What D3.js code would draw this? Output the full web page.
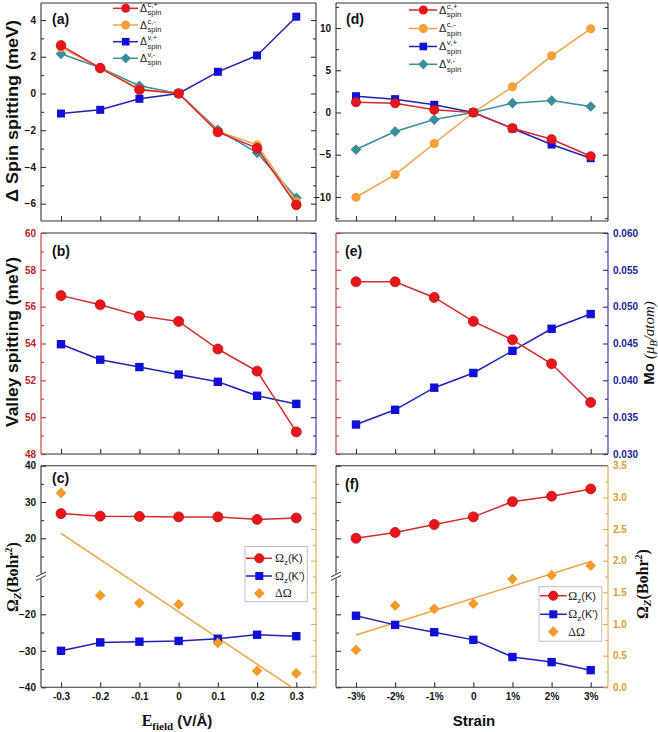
<!DOCTYPE html>
<html>
<head>
<meta charset="utf-8">
<script src="https://cdn.jsdelivr.net/npm/d3@7"></script>
<style>
  body { margin: 0; background: #fff; }
  svg { display: block; }
  text { font-family: 'Liberation Sans', Arial, sans-serif; }
</style>
</head>
<body>
<div id="chart"></div>
<script>
// x values / tick labels
const efield = [-0.3, -0.2, -0.1, 0, 0.1, 0.2, 0.3];
const efieldLabels = ["-0.3", "-0.2", "-0.1", "0", "0.1", "0.2", "0.3"];
const strain = [-3, -2, -1, 0, 1, 2, 3];
const strainLabels = ["-3%", "-2%", "-1%", "0", "1%", "2%", "3%"];

// (a) spin splitting vs E field (meV)
const aCPlus = [2.62, 1.38, 0.2, 0, -2.1, -2.98, -6.07];
const aCMinus = [2.5, 1.4, 0.25, 0, -2.05, -2.8, -5.9];
const aVPlus = [-1.09, -0.89, -0.29, 0, 1.18, 2.07, 4.18];
const aVMinus = [2.16, 1.4, 0.42, 0, -1.98, -3.23, -5.68];

// (d) spin splitting vs strain (meV)
const dCPlus = [1.22, 1.1, 0.32, 0, -1.86, -3.16, -5.18];
const dCMinus = [-10.03, -7.35, -3.67, 0, 3.04, 6.71, 9.91];
const dVPlus = [1.93, 1.58, 0.91, 0, -1.9, -3.79, -5.41];
const dVMinus = [-4.38, -2.25, -0.83, 0, 1.1, 1.42, 0.71];

// (b) / (e) valley splitting (meV) and Mo moment (muB/atom)
const bValley = [56.6, 56.1, 55.5, 55.2, 53.7, 52.5, 49.2];
const bMo = [0.0449, 0.0428, 0.0418, 0.0408, 0.0398, 0.0379, 0.0368];
const eValley = [57.35, 57.35, 56.5, 55.2, 54.2, 52.9, 50.8];
const eMo = [0.034, 0.036, 0.039, 0.041, 0.044, 0.047, 0.049];

// (c) / (f) Berry curvature (Bohr^2)
const cK = [26.8, 26.1, 26.0, 25.9, 25.9, 25.2, 25.6];
const cKp = [-30.0, -27.7, -27.5, -27.3, -26.7, -25.6, -26.0];
const cDelta = [3.07, 1.45, 1.33, 1.31, 0.70, 0.26, 0.22];
const fK = [20.0, 21.6, 23.8, 25.9, 30.1, 31.6, 33.6];
const fKp = [-20.4, -22.9, -24.9, -27.0, -31.7, -33.1, -35.3];
const fDelta = [0.59, 1.29, 1.24, 1.32, 1.71, 1.77, 1.92];

// axis ticks
const aMajor = [-6, -4, -2, 0, 2, 4], aMinor = [-5, -3, -1, 1, 3];
const dMajor = [-10, -5, 0, 5, 10], dMinor = [-12.5, -7.5, -2.5, 2.5, 7.5, 12.5];
const bMajor = [48, 50, 52, 54, 56, 58, 60], bMinor = [49, 51, 53, 55, 57, 59];
const moMajor = [0.030, 0.035, 0.040, 0.045, 0.050, 0.055, 0.060];
const moMinor = [0.0325, 0.0375, 0.0425, 0.0475, 0.0525, 0.0575];
const omMajor = [-40, -30, -20, 20, 30, 40], omMinor = [-35, -25, -15, 15, 25, 35];
const dOmMajor = [0, 0.5, 1.0, 1.5, 2.0, 2.5, 3.0, 3.5];
const dOmMinor = [0.25, 0.75, 1.25, 1.75, 2.25, 2.75, 3.25];

const SANS = "'Liberation Sans', Arial, sans-serif";
const SERIF = "'Liberation Serif', 'Times New Roman', serif";
const RED = "#e8161b", RED_LINE = "#d32a2c", ORANGE = "#f6a03a", ORANGE_LINE = "#eea446";
const BLUE = "#1010d6", BLUE_LINE = "#2020b4", TEAL = "#3b8d9c";
const AX_RED = "#c8353a", AX_BLUE = "#2b2ba6", AX_OR = "#eaa850", FR = "#333";

const svg = d3.select("#chart").append("svg").attr("width", 658).attr("height", 732);
const defs = svg.append("defs");

const L = { x0: 41, x1: 316 }, R = { x0: 336, x1: 608 };
const rows = [{ y0: 3, y1: 221 }, { y0: 233, y1: 454 }, { y0: 465.7, y1: 687.3 }];

const xL = d3.scaleLinear().domain([-0.3, 0.3]).range([61, 296.3]);
const xR = d3.scaleLinear().domain([-3, 3]).range([356, 590.7]);
const yA = d3.scaleLinear().domain([-6, 4]).range([203.7, 20]);
const yD = d3.scaleLinear().domain([-10, 10]).range([197, 28]);
const yV = d3.scaleLinear().domain([48, 60]).range([454, 233]);
const yMo = d3.scaleLinear().domain([0.03, 0.06]).range([454, 233]);
// broken axis: -40..-10 and 10..40
const yOm = d3.scaleLinear().domain([-40, -10, 10, 40]).range([687.3, 577.8, 574.6, 465.7]);
const yDOm = d3.scaleLinear().domain([0, 3.5]).range([687.3, 465.7]);

function frame(p, row, c) {
  const g = svg.append("g").attr("stroke-width", 1.1);
  g.append("line").attr("x1", p.x0).attr("x2", p.x1).attr("y1", row.y0).attr("y2", row.y0).attr("stroke", c[0]);
  g.append("line").attr("x1", p.x1).attr("x2", p.x1).attr("y1", row.y0).attr("y2", row.y1).attr("stroke", c[1]);
  g.append("line").attr("x1", p.x0).attr("x2", p.x1).attr("y1", row.y1).attr("y2", row.y1).attr("stroke", c[2]);
  g.append("line").attr("x1", p.x0).attr("x2", p.x0).attr("y1", row.y0).attr("y2", row.y1).attr("stroke", c[3]);
}

function yAxis(x, scale, side, major, minor, color, fmt, labelColor) {
  const ax = side === "left" ? d3.axisLeft : d3.axisRight;
  const g = svg.append("g").attr("transform", `translate(${x},0)`)
    .call(ax(scale).tickValues(major).tickSize(-5).tickPadding(5).tickFormat(fmt || (() => "")));
  g.select(".domain").remove();
  g.selectAll("line").attr("stroke", color).attr("stroke-width", 1.1);
  g.selectAll("text").attr("fill", labelColor || color)
    .style("font", `bold 10px ${SANS}`);
  if (minor) {
    const m = svg.append("g").attr("transform", `translate(${x},0)`)
      .call(ax(scale).tickValues(minor).tickSize(-3).tickFormat(() => ""));
    m.select(".domain").remove();
    m.selectAll("line").attr("stroke", color).attr("stroke-width", 1.1);
  }
}

function xAxis(y, scale, values, labels) {
  const g = svg.append("g").attr("transform", `translate(0,${y})`)
    .call(d3.axisBottom(scale).tickValues(values).tickSize(-5).tickPadding(6)
      .tickFormat((d, i) => labels ? labels[i] : ""));
  g.select(".domain").remove();
  g.selectAll("line").attr("stroke", FR).attr("stroke-width", 1.1);
  g.selectAll("text").attr("fill", "#111").style("font", `bold 10px ${SANS}`);
}

function marker(shape, x, y, s, fill, stroke) {
  if (shape === "circle") {
    svg.append("circle").attr("cx", x).attr("cy", y).attr("r", s)
      .attr("fill", fill).attr("stroke", stroke || "none").attr("stroke-width", 0.8);
  } else if (shape === "square") {
    svg.append("rect").attr("x", x - s).attr("y", y - s).attr("width", 2 * s).attr("height", 2 * s)
      .attr("fill", fill).attr("stroke", stroke || "none").attr("stroke-width", 0.8);
  } else {
    svg.append("rect").attr("x", -s).attr("y", -s).attr("width", 2 * s).attr("height", 2 * s)
      .attr("transform", `translate(${x},${y}) rotate(45)`)
      .attr("fill", fill).attr("stroke", stroke || "none").attr("stroke-width", 0.8);
  }
}

function series(xs, ys, xs_, ys_, o) {
  const pts = ys.map((v, i) => [xs_(xs[i]), ys_(v)]);
  if (o.line) {
    svg.append("path").attr("d", d3.line()(pts)).attr("fill", "none")
      .attr("stroke", o.line).attr("stroke-width", 1.5);
  }
  pts.forEach(([x, y]) => marker(o.shape, x, y, o.size, o.fill, o.stroke));
}

function fitLine(xs, ys, xs_, ys_, color, clipId, p, row) {
  const mx = d3.mean(xs), my = d3.mean(ys);
  const b = d3.sum(xs, (x, i) => (x - mx) * (ys[i] - my)) / d3.sum(xs, x => (x - mx) ** 2);
  const a = my - b * mx;
  defs.append("clipPath").attr("id", clipId).append("rect")
    .attr("x", p.x0).attr("y", row.y0).attr("width", p.x1 - p.x0).attr("height", row.y1 - row.y0);
  const ends = [d3.min(xs), d3.max(xs)];
  svg.append("path").attr("clip-path", `url(#${clipId})`)
    .attr("d", d3.line()(ends.map(x => [xs_(x), ys_(a + b * x)])))
    .attr("fill", "none").attr("stroke", color).attr("stroke-width", 1.5);
}

function axisBreak(x, y) {
  svg.append("rect").attr("x", x - 2).attr("y", y - 2.5).attr("width", 4).attr("height", 5).attr("fill", "#fff");
  [-1.8, 1.8].forEach(o => {
    svg.append("line").attr("x1", x - 5).attr("y1", y + o + 2.5).attr("x2", x + 5).attr("y2", y + o - 2.5)
      .attr("stroke", FR).attr("stroke-width", 1);
  });
}

function panelLabel(x, y, t) {
  svg.append("text").attr("x", x).attr("y", y).style("font", `bold 14px ${SANS}`).attr("fill", "#111").text(t);
}

function deltaLabel(x, y, sup, size) {
  const t = svg.append("text").attr("x", x).attr("y", y + size * 0.35)
    .style("font-size", size + "px").attr("fill", "#222").text("Δ");
  const w = t.node().getComputedTextLength();
  svg.append("text").attr("x", x + w + 0.5).attr("y", y - 1.5).style("font-size", (size * 0.72) + "px")
    .attr("fill", "#222").text(sup);
  svg.append("text").attr("x", x + w + 0.5).attr("y", y + size * 0.68).style("font-size", (size * 0.72) + "px")
    .attr("fill", "#222").text("spin");
}

function omegaLabel(x, y, rest) {
  const t = svg.append("text").attr("x", x).attr("y", y + 4).attr("fill", "#222");
  t.append("tspan").style("font", `12px ${SERIF}`).text("Ω");
  t.append("tspan").style("font", `8px ${SANS}`).attr("dy", 3).text("z");
  t.append("tspan").style("font", `11px ${SANS}`).attr("dy", -3).text(rest);
}

// ---------- frames ----------
frame(L, rows[0], [FR, FR, FR, FR]);
frame(R, rows[0], [FR, FR, FR, FR]);
frame(L, rows[1], [FR, AX_BLUE, FR, AX_RED]);
frame(R, rows[1], [FR, AX_BLUE, FR, AX_RED]);
frame(L, rows[2], [FR, AX_OR, FR, FR]);
frame(R, rows[2], [FR, AX_OR, FR, FR]);

// ---------- axes ----------
yAxis(L.x0, yA, "left", aMajor, aMinor, FR, d3.format("d"), "#111");
yAxis(L.x1, yA, "right", aMajor, aMinor, FR);
yAxis(R.x0, yD, "left", dMajor, dMinor, FR, d3.format("d"), "#111");
yAxis(R.x1, yD, "right", dMajor, dMinor, FR);

yAxis(L.x0, yV, "left", bMajor, bMinor, AX_RED, d3.format("d"), "#b5262b");
yAxis(L.x1, yMo, "right", moMajor, moMinor, AX_BLUE);
yAxis(R.x0, yV, "left", bMajor, bMinor, AX_RED);
yAxis(R.x1, yMo, "right", moMajor, moMinor, AX_BLUE, d3.format(".3f"), "#23239a");

yAxis(L.x0, yOm, "left", omMajor, omMinor, FR, d3.format("d"), "#111");
yAxis(L.x1, yDOm, "right", dOmMajor, dOmMinor, AX_OR);
yAxis(R.x0, yOm, "left", omMajor, omMinor, FR);
yAxis(R.x1, yDOm, "right", dOmMajor, dOmMinor, AX_OR, d3.format(".1f"), "#e39a35");

rows.forEach((row, r) => {
  xAxis(row.y1, xL, efield, r === 2 ? efieldLabels : null);
  xAxis(row.y1, xR, strain, r === 2 ? strainLabels : null);
});

axisBreak(L.x0, 576.2);
axisBreak(R.x0, 576.2);

// ---------- (a) ----------
series(efield, aVPlus, xL, yA, { line: BLUE_LINE, shape: "square", size: 4, fill: BLUE });
series(efield, aVMinus, xL, yA, { line: TEAL, shape: "diamond", size: 3.8, fill: TEAL });
series(efield, aCMinus, xL, yA, { line: ORANGE_LINE, shape: "circle", size: 4.5, fill: ORANGE });
series(efield, aCPlus, xL, yA, { line: RED_LINE, shape: "circle", size: 4.8, fill: RED, stroke: "#c01015" });

// ---------- (d) ----------
series(strain, dVMinus, xR, yD, { line: TEAL, shape: "diamond", size: 3.8, fill: TEAL });
series(strain, dCMinus, xR, yD, { line: ORANGE_LINE, shape: "circle", size: 4.6, fill: ORANGE });
series(strain, dVPlus, xR, yD, { line: BLUE_LINE, shape: "square", size: 4, fill: BLUE });
series(strain, dCPlus, xR, yD, { line: RED_LINE, shape: "circle", size: 4.6, fill: RED, stroke: "#c01015" });

// ---------- (b) / (e) ----------
series(efield, bMo, xL, yMo, { line: BLUE_LINE, shape: "square", size: 4.2, fill: BLUE });
series(efield, bValley, xL, yV, { line: RED_LINE, shape: "circle", size: 5, fill: RED, stroke: "#c01015" });
series(strain, eMo, xR, yMo, { line: BLUE_LINE, shape: "square", size: 4.2, fill: BLUE });
series(strain, eValley, xR, yV, { line: RED_LINE, shape: "circle", size: 5, fill: RED, stroke: "#c01015" });

// ---------- (c) / (f) ----------
fitLine(efield, cDelta, xL, yDOm, ORANGE_LINE, "clipC", L, rows[2]);
fitLine(strain, fDelta, xR, yDOm, ORANGE_LINE, "clipF", R, rows[2]);
series(efield, cK, xL, yOm, { line: RED_LINE, shape: "circle", size: 5, fill: RED, stroke: "#c01015" });
series(efield, cKp, xL, yOm, { line: BLUE_LINE, shape: "square", size: 4.2, fill: BLUE });
series(efield, cDelta, xL, yDOm, { shape: "diamond", size: 3.8, fill: "#f39a2a" });
series(strain, fK, xR, yOm, { line: RED_LINE, shape: "circle", size: 5, fill: RED, stroke: "#c01015" });
series(strain, fKp, xR, yOm, { line: BLUE_LINE, shape: "square", size: 4.2, fill: BLUE });
series(strain, fDelta, xR, yDOm, { shape: "diamond", size: 3.8, fill: "#f39a2a" });

// ---------- legends ----------
const specLeg = [
  { sup: "c,+", line: RED_LINE, shape: "circle", fill: RED, size: 4.5 },
  { sup: "c,-", line: ORANGE_LINE, shape: "circle", fill: ORANGE, size: 4.5 },
  { sup: "v,+", line: BLUE_LINE, shape: "square", fill: BLUE, size: 3.8 },
  { sup: "v,-", line: TEAL, shape: "diamond", fill: TEAL, size: 3.6 }
];
[8.3, 25, 41.7, 58.3].forEach((y, i) => {
  const s = specLeg[i];
  svg.append("line").attr("x1", 113).attr("x2", 138).attr("y1", y).attr("y2", y).attr("stroke", s.line).attr("stroke-width", 1.5);
  marker(s.shape, 125.7, y, s.size, s.fill);
  deltaLabel(140, y, s.sup, 10.5);
});
[10, 28.5, 46.5, 64.3].forEach((y, i) => {
  const s = specLeg[i];
  svg.append("line").attr("x1", 409).attr("x2", 437).attr("y1", y).attr("y2", y).attr("stroke", s.line).attr("stroke-width", 1.5);
  marker(s.shape, 423.3, y, s.size, s.fill);
  deltaLabel(439, y, s.sup, 11);
});

function omegaLegend(bx0, bx1, by0, by1, lx0, lx1, mx, tx, ys) {
  svg.append("rect").attr("x", bx0).attr("y", by0).attr("width", bx1 - bx0).attr("height", by1 - by0)
    .attr("fill", "#fff").attr("stroke", "#bdbdbd").attr("stroke-width", 1);
  svg.append("line").attr("x1", lx0).attr("x2", lx1).attr("y1", ys[0]).attr("y2", ys[0]).attr("stroke", RED_LINE).attr("stroke-width", 1.5);
  marker("circle", mx, ys[0], 4.6, RED, "#c01015");
  omegaLabel(tx, ys[0], "(K)");
  svg.append("line").attr("x1", lx0).attr("x2", lx1).attr("y1", ys[1]).attr("y2", ys[1]).attr("stroke", BLUE_LINE).attr("stroke-width", 1.5);
  marker("square", mx, ys[1], 4, BLUE);
  omegaLabel(tx, ys[1], "(K')");
  marker("diamond", mx, ys[2], 3.8, "#f39a2a");
  svg.append("text").attr("x", tx).attr("y", ys[2] + 4).style("font", `12px ${SERIF}`).attr("fill", "#222").text("ΔΩ");
}
omegaLegend(245, 307.3, 546.5, 601.7, 246, 272, 259.3, 275, [558.3, 576, 593.3]);
omegaLegend(539, 601.7, 586.7, 641.2, 540, 566.7, 553.3, 568.3, [595.7, 614.3, 631.7]);

// ---------- panel labels ----------
panelLabel(52, 24, "(a)");
panelLabel(346, 24, "(d)");
panelLabel(52, 256, "(b)");
panelLabel(345, 256, "(e)");
panelLabel(52, 483, "(c)");
panelLabel(345, 489, "(f)");

// ---------- axis titles ----------
svg.append("text").attr("transform", "translate(18,111) rotate(-90)").attr("text-anchor", "middle")
  .attr("textLength", 182).attr("lengthAdjust", "spacingAndGlyphs")
  .style("font", `bold 16px ${SANS}`).attr("fill", "#111").text("Δ Spin spitting (meV)");
svg.append("text").attr("transform", "translate(18,342) rotate(-90)").attr("text-anchor", "middle")
  .attr("textLength", 170).attr("lengthAdjust", "spacingAndGlyphs")
  .style("font", `bold 16px ${SANS}`).attr("fill", "#111").text("Valley spitting (meV)");

function omegaTitle(x, y) {
  const t = svg.append("text").attr("transform", `translate(${x},${y}) rotate(-90)`).attr("text-anchor", "middle")
    .style("font", `bold 16px ${SERIF}`).attr("fill", "#111");
  t.append("tspan").text("Ω");
  t.append("tspan").style("font-style", "italic").style("font-size", "11px").attr("dy", 3).text("Z");
  t.append("tspan").attr("dy", -3).text("(Bohr");
  t.append("tspan").style("font-size", "10px").attr("dy", -6).text("2");
  t.append("tspan").attr("dy", 6).text(")");
}
omegaTitle(18, 577);
omegaTitle(648, 584);

const mo = svg.append("text").attr("transform", "translate(654,343) rotate(-90)").attr("text-anchor", "middle")
  .style("font-size", "15px").attr("fill", "#111");
mo.append("tspan").style("font-weight", "bold").text("Mo ");
mo.append("tspan").style("font-family", SERIF).style("font-style", "italic").text("(μ");
mo.append("tspan").style("font-family", SERIF).style("font-style", "italic").style("font-size", "10px").attr("dy", 3).text("B");
mo.append("tspan").style("font-family", SERIF).style("font-style", "italic").attr("dy", -3).text("/atom)");

const ef = svg.append("text").attr("x", 177).attr("y", 726).attr("text-anchor", "middle").attr("fill", "#111");
ef.append("tspan").style("font", `bold 16px ${SERIF}`).text("E");
ef.append("tspan").style("font", `bold 11px ${SERIF}`).attr("dy", 4).text("field");
ef.append("tspan").style("font", `bold 15px ${SANS}`).attr("dy", -4).text(" (V/Å)");

svg.append("text").attr("x", 474).attr("y", 726).attr("text-anchor", "middle")
  .style("font", `bold 15px ${SANS}`).attr("fill", "#111").text("Strain");
</script>
</body>
</html>
